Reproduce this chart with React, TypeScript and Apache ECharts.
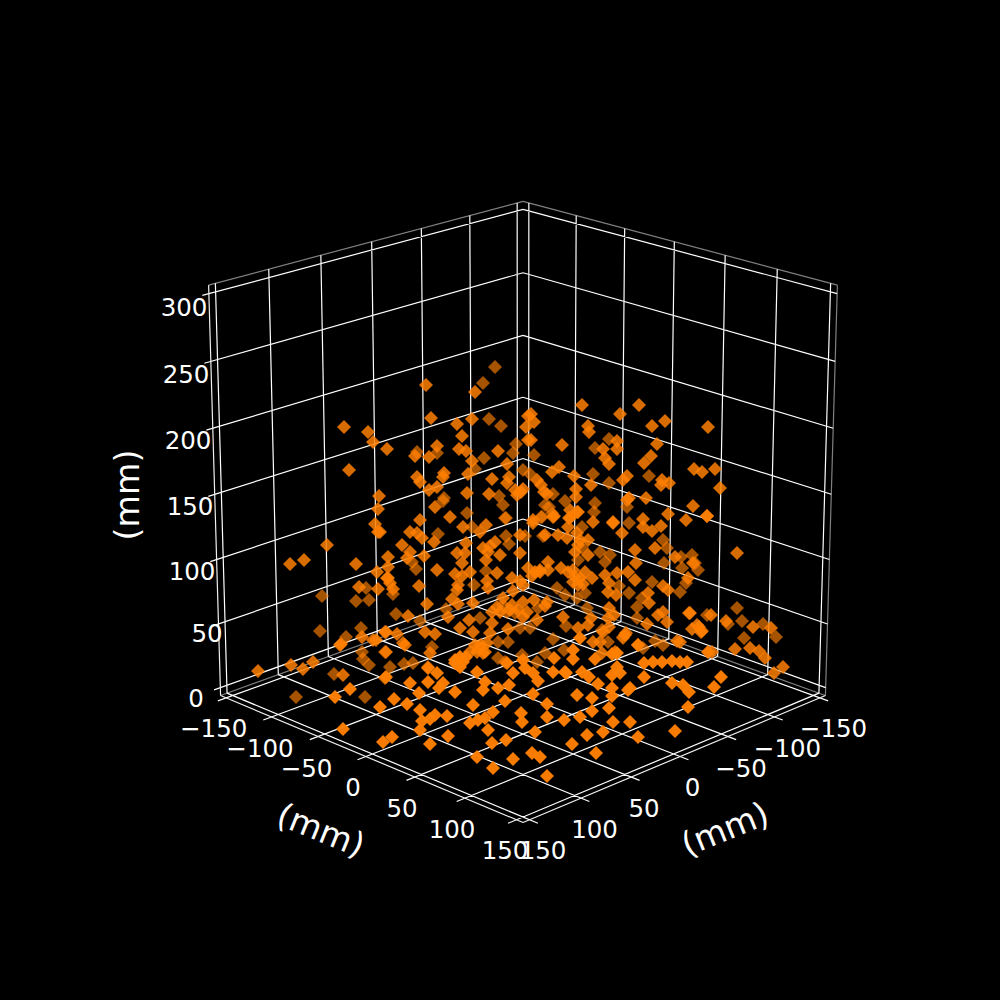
import React, { useEffect, useRef } from "react";
import * as echarts from "echarts";

const xyTicks = [-150, -100, -50, 0, 50, 100, 150];
const zTicks = [0, 50, 100, 150, 200, 250, 300];
const leftLabels = ["−150", "−100", "−50", "0", "50", "100", "150"];
const rightLabels = ["−150", "−100", "−50", "0", "50", "100", "150"];
const zLabels = ["0", "50", "100", "150", "200", "250", "300"];
const axisTitle = "(mm)";

// screen-read positions of the markers, grouped by how strongly depth shading dims them
const pointsDim: number[][] = [
  [495,367],[483,383],[489,419],[501,426],[516,444],[513,453],[484,458],[475,469],[503,505],[505,518],[534,455],[523,470],[530,474],[553,494],[565,501],[595,503],[627,507],[594,512],[609,439],[595,448],[649,476],[609,483],[593,474],[417,452],[437,453],[444,498],[467,513],[499,496],[443,501],[541,517],[552,513],[545,505],[549,507],[438,534],[506,518],[542,517],[472,527],[506,536],[509,544],[525,536],[543,536],[416,569],[412,562],[486,571],[474,585],[393,594],[446,609],[396,614],[420,621],[356,601],[369,600],[366,588],[322,596],[320,631],[361,628],[346,637],[362,652],[369,665],[385,652],[390,667],[404,664],[413,663],[363,659],[428,667],[507,612],[515,613],[503,605],[538,608],[530,628],[498,642],[508,642],[480,618],[520,628],[522,655],[545,653],[537,662],[553,639],[564,650],[582,527],[578,560],[582,548],[600,552],[610,555],[605,562],[629,523],[663,540],[667,548],[664,563],[682,568],[681,557],[692,555],[698,570],[695,563],[680,592],[686,583],[642,598],[637,607],[629,593],[652,582],[585,593],[619,586],[557,588],[565,595],[577,598],[587,608],[566,626],[602,630],[608,642],[623,638],[637,618],[707,615],[763,624],[737,608],[744,638],[742,621],[776,637],[728,624],[643,648],[655,641],[663,645],[365,697],[334,674],[296,697],[623,637],[432,647],[498,658],[505,662],[478,647],
];
const pointsMid: number[][] = [
  [344,427],[368,432],[373,442],[387,449],[349,470],[426,385],[475,392],[431,418],[472,419],[457,424],[462,436],[437,446],[429,457],[415,456],[459,449],[466,451],[498,451],[472,461],[507,464],[468,474],[509,477],[507,483],[492,479],[417,477],[420,482],[444,473],[443,477],[437,487],[429,490],[379,496],[378,509],[467,493],[489,494],[435,507],[450,517],[517,495],[521,492],[523,489],[515,490],[528,416],[526,427],[528,440],[420,520],
  [582,405],[639,405],[620,414],[665,421],[652,426],[708,427],[588,426],[589,432],[531,414],[534,422],[531,440],[562,445],[603,449],[617,441],[617,449],[657,444],[651,456],[644,463],[605,458],[609,464],[559,467],[552,472],[694,469],[702,472],[715,469],[574,476],[627,476],[623,480],[537,480],[541,485],[591,485],[662,480],[669,483],[661,485],[720,488],[576,489],[544,492],[547,494],[576,497],[629,498],[627,500],[646,498],[693,506],[577,512],[554,516],[570,510],[668,514],[707,516],[569,518],[643,519],[613,522],[686,520],[533,520],
  [327,545],[290,564],[304,560],[356,564],[375,524],[378,532],[388,557],[377,572],[388,578],[359,587],[378,589],[362,637],[376,640],[385,632],[341,644],[313,662],[303,669],[291,665],[258,671],[343,675],[385,678],
  [410,532],[417,533],[422,538],[434,542],[380,532],[463,527],[486,525],[533,523],[480,532],[466,543],[495,542],[483,548],[520,535],[402,545],[410,552],[407,558],[424,556],[457,553],[465,553],[462,563],[500,555],[486,560],[520,553],[388,567],[437,570],[497,573],[528,568],[540,572],[548,562],[387,578],[390,583],[455,574],[470,572],[462,576],[458,585],[457,590],[487,581],[488,588],[512,578],[520,581],[419,586],[393,589],[523,585],[513,591],[503,598],[452,599],[458,604],[473,603],[427,604],[523,602],[547,602],[497,607],[523,617],[537,620],[448,617],[408,616],[469,620],[492,623],[460,628],[473,632],[490,633],[508,629],[386,632],[397,634],[403,643],[425,632],[435,634],[430,653],[386,652],[487,643],[477,652],[483,653],
  [553,517],[570,518],[578,512],[593,522],[613,523],[622,533],[643,527],[652,531],[661,526],[568,527],[577,533],[545,535],[558,535],[567,538],[588,540],[588,555],[635,550],[655,548],[636,563],[675,557],[693,563],[688,578],[548,570],[561,568],[540,570],[585,572],[580,578],[592,578],[605,575],[617,573],[628,572],[635,580],[609,583],[573,582],[578,585],[608,592],[616,595],[668,590],[648,593],[663,586],[649,603],[609,608],[614,615],[608,618],[658,615],[663,612],[667,622],[690,613],[647,624],[563,617],[591,618],[578,628],[588,625],[593,642],[626,633],[692,629],[699,627],[701,632],[677,641],
  [689,613],[711,615],[726,621],[753,627],[771,628],[697,625],[702,631],[735,649],[750,648],[759,651],[765,658],[712,652],[680,642],[783,667],[774,673],[737,553],[707,516],[638,645],[625,635],[609,627],[603,632],[600,642],[615,652],[602,653],[405,645],[340,645],[373,640],
  [510,610],[500,612],[512,605],[518,610],[492,612],[527,612],[545,606],[534,600],[573,570],[575,577],[568,572],[583,584],[535,572],[532,576],[575,552],[578,545],[580,540],[490,546],[488,552],[470,652],[475,645],[481,645],[485,652],
];
const pointsBright: number[][] = [
  [466,657],[460,657],[455,663],[460,667],[455,660],[463,662],[523,660],[507,663],[437,673],[477,672],[513,673],[525,668],[386,677],[573,650],[580,638],[554,658],[573,659],[595,659],[612,654],[617,653],[638,645],[653,662],[662,662],[672,661],[680,662],[687,662],[708,652],[617,667],[612,675],[620,673],[553,672],[565,672],[582,672],[589,677],[644,663],[644,677],
  [335,697],[350,689],[380,707],[394,699],[407,704],[419,693],[343,729],[383,742],[392,737],[420,710],[435,715],[430,719],[422,721],[447,716],[420,730],[430,744],[448,736],[477,757],[493,768],[492,743],[506,740],[513,759],[532,753],[540,757],[547,776],[535,732],[473,705],[483,690],[505,701],[470,723],[478,720],[485,718],[493,712],[488,730],[521,713],[522,722],
  [410,683],[428,682],[443,683],[439,688],[455,692],[428,668],[458,665],[498,688],[485,682],[509,685],[533,673],[538,681],[566,673],[598,684],[533,694],[547,704],[577,695],[592,698],[547,717],[564,720],[580,717],[592,711],[609,708],[612,688],[628,690],[630,688],[612,696],[613,722],[630,722],[603,732],[587,735],[572,744],[596,753],[638,737],[675,731],[672,683],[683,685],[689,692],[688,707],[721,677],[714,687],
];

// layout
const LIM = 156.25;
const Z0 = -6.25;
const Z1 = 306.25;
const S = 3805, CX = 523, CY = 494.3, DIST = 10, H = 0.55;
const EL = (19.8 * Math.PI) / 180;

function project(x: number, y: number, z: number): number[] {
  const X = (x / 150) * H, Y = (y / 150) * H, Z = ((z - 150) / 150) * H;
  const k = Math.SQRT1_2;
  const sx = (Y - X) * k;
  const sd = (X + Y) * k * Math.cos(EL) + Z * Math.sin(EL);
  const sy = -(X + Y) * k * Math.sin(EL) + Z * Math.cos(EL);
  const w = DIST - sd;
  return [CX + (S * sx) / w, CY - (S * sy) / w];
}

type P3 = [number, number, number];
function segs(list: [P3, P3][]): any[] {
  const out: any[] = [];
  list.forEach(([a, b]) => {
    out.push(project(...a), project(...b), ["-", "-"]);
  });
  return out;
}

const TICK = 8;
const ZTICK = 6;
const gridSegs: [P3, P3][] = [];
xyTicks.forEach((t) => {
  gridSegs.push([[t, -LIM, Z0], [t, -LIM, Z1]]); // left wall verticals
  gridSegs.push([[-LIM, t, Z0], [-LIM, t, Z1]]); // right wall verticals
  gridSegs.push([[t, -LIM, Z0], [t, LIM + TICK, Z0]]); // floor
  gridSegs.push([[-LIM, t, Z0], [LIM + TICK, t, Z0]]); // floor
});
zTicks.forEach((t) => {
  gridSegs.push([[-LIM, -LIM, t], [LIM + ZTICK, -LIM, t]]);
  gridSegs.push([[-LIM, -LIM, t], [-LIM, LIM, t]]);
});
const paneSegs: [P3, P3][] = [
  [[-LIM, -LIM, Z1], [LIM, -LIM, Z1]],
  [[-LIM, -LIM, Z1], [-LIM, LIM, Z1]],
  [[-LIM, LIM, Z0], [-LIM, LIM, Z1]],
  [[-LIM, -LIM, Z0], [LIM, -LIM, Z0]],
  [[-LIM, -LIM, Z0], [-LIM, LIM, Z0]],
];
const axisSegs: [P3, P3][] = [
  [[LIM, -LIM, Z0], [LIM, LIM, Z0]],
  [[-LIM, LIM, Z0], [LIM, LIM, Z0]],
  [[LIM, -LIM, Z0], [LIM, -LIM, Z1]],
];

const leftAnchors = [[213.7,728],[260,748],[306.5,768],[353,787],[402,808],[452,829],[505,850]];
const rightAnchors = [[833.5,728],[787.5,748],[741,768],[692.5,787],[644,808],[594.5,829],[543,850]];
const zAnchors = [[196,698],[207,633],[192,571],[190,506],[188,440],[186,374],[184,307]];

function lineSeries(data: any[], color: string, width: number) {
  return {
    type: "line", data, showSymbol: false, silent: true, connectNulls: false, z: 1,
    lineStyle: { color, width }, itemStyle: { color }, animation: false,
  };
}
function pointSeries(data: number[][], opacity: number) {
  return {
    type: "scatter", data, symbol: "diamond", symbolSize: 14, silent: true, z: 3,
    itemStyle: { color: "#ff7f00", opacity }, animation: false,
  };
}
function label(text: string, x: number, y: number, fontSize: number, rotation = 0) {
  return {
    type: "text", x, y, rotation, silent: true, z: 10,
    style: {
      text, x: 0, y: 0, fill: "#ffffff", fontSize, fontFamily: "DejaVu Sans",
      align: "center", verticalAlign: "middle",
    },
  };
}

export default function App() {
  const ref = useRef<HTMLDivElement>(null);
  useEffect(() => {
    document.body.style.margin = "0";
    document.body.style.background = "#000";
    const chart = echarts.init(ref.current!, undefined, { renderer: "svg" });
    chart.setOption({
      animation: false,
      backgroundColor: "#000000",
      grid: { left: 0, right: 0, top: 0, bottom: 0 },
      xAxis: { type: "value", min: 0, max: 1000, show: false },
      yAxis: { type: "value", min: 0, max: 1000, inverse: true, show: false },
      series: [
        lineSeries(segs(paneSegs), "#808080", 1.2),
        lineSeries(segs(gridSegs), "#ffffff", 1.2),
        lineSeries(segs(axisSegs), "#f0f0f0", 1.2),
        pointSeries(pointsDim, 0.65),
        pointSeries(pointsMid, 0.85),
        pointSeries(pointsBright, 0.97),
      ],
      graphic: [
        ...leftLabels.map((t, i) => label(t, leftAnchors[i][0], leftAnchors[i][1], 24.5)),
        ...rightLabels.map((t, i) => label(t, rightAnchors[i][0], rightAnchors[i][1], 24.5)),
        ...zLabels.map((t, i) => label(t, zAnchors[i][0], zAnchors[i][1], 24.5)),
        label(axisTitle, 321, 830, 33.3, (-22 * Math.PI) / 180),
        label(axisTitle, 725, 829, 33.3, (22 * Math.PI) / 180),
        label(axisTitle, 127, 495, 33.3, Math.PI / 2),
      ],
    });
    return () => chart.dispose();
  }, []);
  return <div ref={ref} style={{ width: 1000, height: 1000, position: "absolute", left: 0, top: 0 }} />;
}
